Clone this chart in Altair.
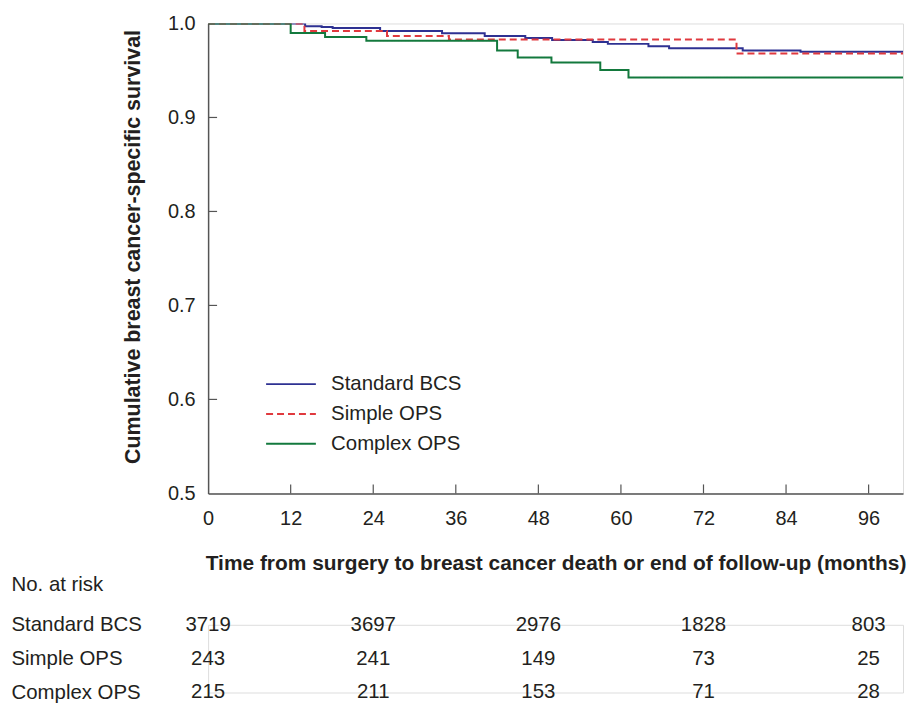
import altair as alt
import pandas as pd

FONT = "Liberation Sans"
TXT = "#231f20"
AX = "#555555"

groups = ["Standard BCS", "Simple OPS", "Complex OPS"]
colors = ["#2e3192", "#e0393e", "#13793d"]
dashes = [[1, 0], [7, 4], [1, 0]]

# Kaplan-Meier step points (month, survival)
bcs_t = [0, 14.1, 16.5, 18.1, 25.0, 34.0, 40.2, 46.1, 50.0, 55.9, 58.1, 64.0, 67.0, 77.7, 86.1, 101]
bcs_s = [1.0, 0.997, 0.9963, 0.9952, 0.992, 0.9896, 0.9868, 0.9846, 0.9825, 0.9804, 0.9783, 0.9759, 0.9737, 0.9712, 0.9698, 0.9698]
simple_t = [0, 14.0, 26.0, 35.0, 76.8, 101]
simple_s = [1.0, 0.992, 0.9868, 0.983, 0.968, 0.968]
complex_t = [0, 12.0, 17.0, 23.0, 42.0, 45.0, 49.9, 57.0, 61.1, 101]
complex_s = [1.0, 0.99, 0.9857, 0.9815, 0.9712, 0.9638, 0.9586, 0.9504, 0.9426, 0.9426]

# Numbers at risk
risk_months = [0, 24, 48, 72, 96]
risk_bcs = [3719, 3697, 2976, 1828, 803]
risk_simple = [243, 241, 149, 73, 25]
risk_complex = [215, 211, 153, 71, 28]

x_ticks = [0, 12, 24, 36, 48, 60, 72, 84, 96]
x_inner_ticks = [12, 24, 36, 48, 60, 72, 84, 96]
y_ticks = [0.5, 0.6, 0.7, 0.8, 0.9, 1.0]
y_inner_ticks = [0.6, 0.7, 0.8, 0.9]

curves = pd.concat([
    pd.DataFrame({"month": bcs_t, "surv": bcs_s, "group": groups[0]}),
    pd.DataFrame({"month": simple_t, "surv": simple_s, "group": groups[1]}),
    pd.DataFrame({"month": complex_t, "surv": complex_s, "group": groups[2]}),
])

risk_rows = []
for g, vals in zip(groups, [risk_bcs, risk_simple, risk_complex]):
    for m, n in zip(risk_months, vals):
        risk_rows.append({"group": g, "month": m, "n": n})
risk_df = pd.DataFrame(risk_rows)

W, H = 698, 472
xscale = alt.Scale(domain=[0, 101], nice=False, zero=False)
yscale = alt.Scale(domain=[0.5, 1.0], nice=False, zero=False)

legend = alt.Legend(
    title=None, orient="none", legendX=73, legendY=352,
    symbolType="M-5,0H5", symbolSize=100, symbolStrokeWidth=2,
    labelFontSize=20.5, labelFont=FONT, labelColor=TXT, labelOffset=30,
    rowPadding=9, padding=0,
)

color = alt.Color("group:N", scale=alt.Scale(domain=groups, range=colors), legend=legend)
dash = alt.StrokeDash("group:N", scale=alt.Scale(domain=groups, range=dashes), legend=legend)

xaxis = alt.Axis(
    values=x_ticks, title="Time from surgery to breast cancer death or end of follow-up (months)",
    ticks=False, tickSize=0, labelPadding=15, labelFontSize=20, labelColor=TXT, labelFont=FONT,
    titleFontSize=21, titleFont=FONT, titleColor=TXT, titleFontWeight="bold", titlePadding=24.5,
    domainColor=AX, domainWidth=1.5, grid=False, labelFlush=False,
)
yaxis = alt.Axis(
    values=y_ticks, format=".1f", title="Cumulative breast cancer-specific survival",
    ticks=False, tickSize=0, labelPadding=13, labelFontSize=20, labelColor=TXT, labelFont=FONT,
    titleFontSize=21.5, titleFont=FONT, titleColor=TXT, titleFontWeight="bold", titlePadding=23,
    titleY=224, domainColor=AX, domainWidth=1.5, grid=False,
)

def line_layer(g):
    return alt.Chart(curves).transform_filter(alt.datum.group == g).mark_line(
        interpolate="step-after", strokeWidth=2, clip=True
    ).encode(
        x=alt.X("month:Q", scale=xscale, axis=xaxis),
        y=alt.Y("surv:Q", scale=yscale, axis=yaxis),
        color=color,
        strokeDash=dash,
    )

xt = alt.Chart(pd.DataFrame({"month": x_inner_ticks})).mark_rule(color=AX, strokeWidth=1.2).encode(
    x=alt.X("month:Q", scale=xscale, axis=xaxis), y=alt.value(H), y2=alt.value(H - 9)
)
yt = alt.Chart(pd.DataFrame({"surv": y_inner_ticks})).mark_rule(color=AX, strokeWidth=1.2).encode(
    y=alt.Y("surv:Q", scale=yscale, axis=yaxis), x=alt.value(0), x2=alt.value(9)
)

main = alt.layer(xt, yt, line_layer(groups[0]), line_layer(groups[1]), line_layer(groups[2])).properties(
    width=W, height=H
)

risk = alt.Chart(risk_df).mark_text(fontSize=20.5, font=FONT, color=TXT, align="center", baseline="middle").encode(
    x=alt.X("month:Q", scale=alt.Scale(domain=[0, 101], nice=False, zero=False), axis=None),
    y=alt.Y("group:N", scale=alt.Scale(type="point", domain=groups, padding=0),
            axis=alt.Axis(title="No. at risk", titleAngle=0, titleAlign="left", titleBaseline="middle",
                          titleX=-198, titleY=-40, titleFontWeight="normal", titleFontSize=20.5,
                          titleFont=FONT, titleColor=TXT,
                          labelAlign="left", labelPadding=198, labelFontSize=20.5, labelFont=FONT,
                          labelColor=TXT, ticks=False, tickSize=0, domain=False, grid=False)),
    text="n:Q",
).properties(width=W, height=68)

chart = alt.vconcat(main, risk, spacing=0).properties(
    padding={"left": 2, "top": 3, "right": 0, "bottom": 0}
).configure_view(stroke=None).configure(font=FONT)

chart.save("out.html", embed_options={"renderer": "svg", "actions": False})
